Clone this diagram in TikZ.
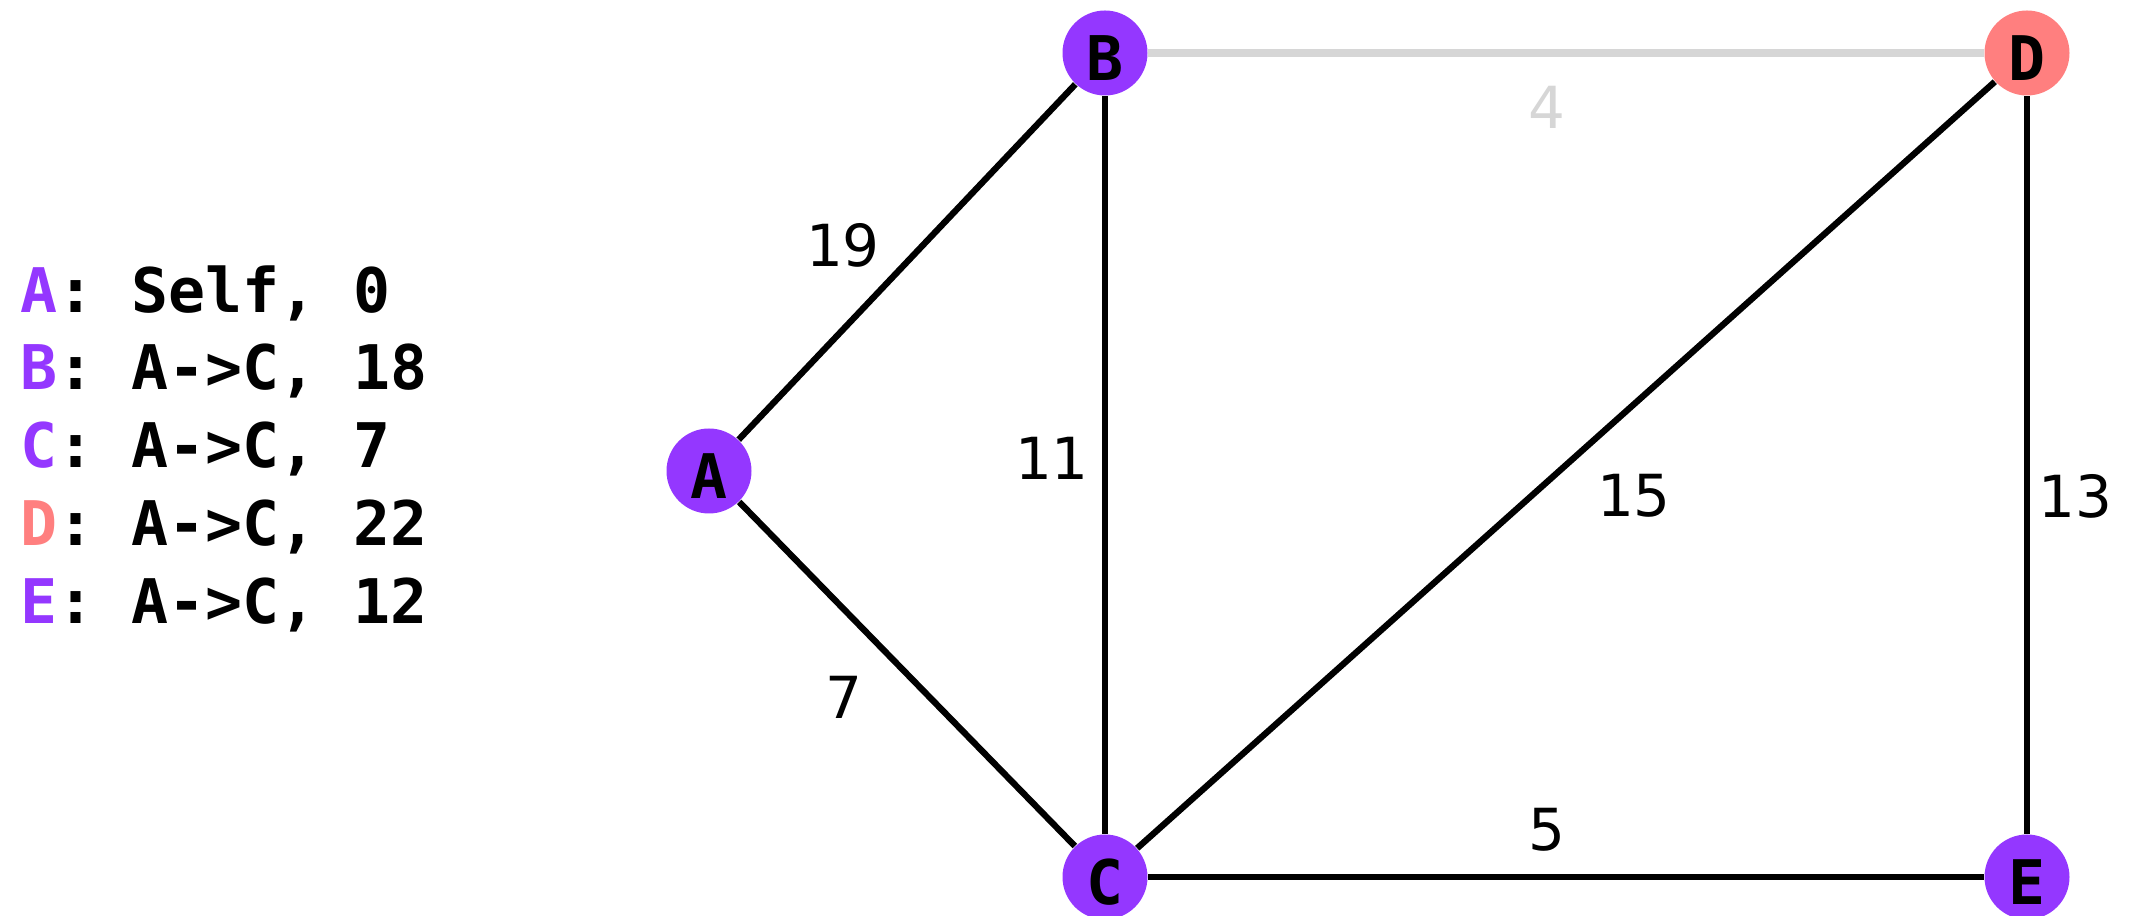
\documentclass[tikz,border=0pt]{standalone}
\usepackage{fontspec}
\setmainfont{DejaVu Sans}
\setmonofont{DejaVu Sans Mono}
\usetikzlibrary{positioning}

\definecolor{visited}{HTML}{9437FF}
\definecolor{current}{HTML}{FF7F7F}
\definecolor{faded}{HTML}{D6D6D6}

\tikzset{
  vertex/.style={circle, fill=visited, minimum size=0.85cm, inner sep=0pt,
    text height=0.6cm, text depth=0.04cm,
    font=\fontsize{17.5}{20}\selectfont\ttfamily\bfseries},
  edge/.style={line width=1.8pt, black},
  weight/.style={inner sep=0pt, font=\fontsize{16.5}{20}\selectfont},
  entry/.style={anchor=base west, inner sep=0pt,
    font=\fontsize{17.5}{20}\selectfont\ttfamily\bfseries}
}

\begin{document}
\begin{tikzpicture}
  % canvas
  \useasboundingbox (0,0) rectangle (21.32,-9.16);

  % distance table
  \node[entry] (row-a) at (0.2,-3.13) {\textcolor{visited}{A}: Self, 0};
  \node[entry] (row-b) at (0.2,-3.90) {\textcolor{visited}{B}: A->C, 18};
  \node[entry] (row-c) at (0.2,-4.68) {\textcolor{visited}{C}: A->C, 7};
  \node[entry] (row-d) at (0.2,-5.46) {\textcolor{current}{D}: A->C, 22};
  \node[entry] (row-e) at (0.2,-6.24) {\textcolor{visited}{E}: A->C, 12};

  % vertices
  \node[vertex] (A) at (7.09,-4.71) {A};
  \node[vertex] (B) at (11.05,-0.53) {B};
  \node[vertex, fill=current] (D) at (20.27,-0.53) {D};
  \node[vertex] (C) at (11.05,-8.77) {C};
  \node[vertex] (E) at (20.27,-8.77) {E};

  % edges
  \draw[edge, faded, line width=2pt] (B) -- (D);
  \draw[edge] (A) -- (B);
  \draw[edge] (A) -- (C);
  \draw[edge] (B) -- (C);
  \draw[edge] (C) -- (D);
  \draw[edge] (D) -- (E);
  \draw[edge] (C) -- (E);

  % weights
  \node[weight] (w-ab) at (8.43,-2.45) {19};
  \node[weight] (w-bc) at (10.52,-4.58) {11};
  \node[weight, text=faded] (w-bd) at (15.47,-1.07) {4};
  \node[weight] (w-cd) at (16.34,-4.96) {15};
  \node[weight] (w-de) at (20.75,-4.96) {13};
  \node[weight] (w-ac) at (8.44,-6.97) {7};
  \node[weight] (w-ce) at (15.47,-8.30) {5};
\end{tikzpicture}
\end{document}
